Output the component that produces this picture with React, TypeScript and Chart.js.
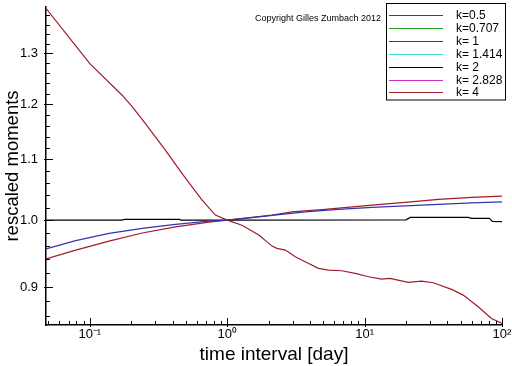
import React, { useEffect, useRef } from 'react';
import { Chart, registerables } from 'chart.js';

Chart.register(...registerables);

const FONT = '"Liberation Sans", Arial, Helvetica, sans-serif';

// Axis ranges
const xMin = 0.048;
const xMax = 100;
const yMin = 0.848;
const yMax = 1.398;

// Tick values / labels
const xMajorTicks = [0.1, 1, 10, 100];
const xTickLabels = ['10\u207B\u00B9', '10\u2070', '10\u00B9', '10\u00B2'];
const xMinorTicks = [
  0.05, 0.06, 0.07, 0.08, 0.09,
  0.2, 0.3, 0.4, 0.5, 0.6, 0.7, 0.8, 0.9,
  2, 3, 4, 5, 6, 7, 8, 9,
  20, 30, 40, 50, 60, 70, 80, 90,
];
const yMajorTicks = [0.9, 1.0, 1.1, 1.2, 1.3];
const yTickLabels = ['0.9', '1.0', '1.1', '1.2', '1.3'];
const yMinorTicks = [
  0.86, 0.88, 0.92, 0.94, 0.96, 0.98, 1.02, 1.04, 1.06, 1.08,
  1.12, 1.14, 1.16, 1.18, 1.22, 1.24, 1.26, 1.28, 1.32, 1.34, 1.36, 1.38,
];

// Series
const seriesLabels = ['k=0.5', 'k=0.707', 'k= 1', 'k= 1.414', 'k= 2', 'k= 2.828', 'k= 4'];
const seriesColors = ['#a01c2c', '#22a822', '#3434b0', '#3cdcdc', '#000000', '#c832c8', '#a01c2c'];

const k05T = [0.048, 0.1, 0.172, 0.204, 0.254, 0.356, 0.47, 0.65, 0.82, 1.0, 1.28, 1.7, 2.12, 2.3, 2.65, 3.13, 3.69, 4.62, 5.47, 6.83, 8.53, 10.7, 13.3, 15.3, 20.8, 26, 31.6, 43, 52.2, 67.1, 83.8, 100];
const k05V = [1.395, 1.279, 1.217, 1.195, 1.164, 1.116, 1.076, 1.033, 1.008, 1.0, 0.992, 0.977, 0.96, 0.9565, 0.954, 0.944, 0.9366, 0.927, 0.9244, 0.9235, 0.9197, 0.9148, 0.9115, 0.9125, 0.9067, 0.9086, 0.9062, 0.8968, 0.8888, 0.8726, 0.8568, 0.85];

const k0707T: number[] = [];
const k0707V: number[] = [];

const k1T = [0.048, 0.079, 0.138, 0.241, 0.42, 0.735, 1.0, 1.7, 2.12, 3.69, 6.45, 11.3, 19.7, 34.4, 60, 100];
const k1V = [0.9559, 0.9683, 0.9793, 0.987, 0.9933, 0.9984, 1.0, 1.0052, 1.0074, 1.0131, 1.017, 1.0202, 1.0227, 1.025, 1.0276, 1.0292];

const k1414T: number[] = [];
const k1414V: number[] = [];

const k2T = [0.048, 0.17, 0.18, 0.45, 0.46, 1, 20, 21.5, 56.8, 60, 81, 85, 100];
const k2V = [1.0, 1.0, 1.0011, 1.0011, 1.0, 1.0, 1.0005, 1.0042, 1.0042, 1.0027, 1.0027, 0.998, 0.9975];

const k2828T: number[] = [];
const k2828V: number[] = [];

const k4T = [0.048, 0.079, 0.138, 0.241, 0.42, 0.735, 1.0, 1.7, 2.12, 2.96, 5.16, 11.3, 19.7, 34.4, 60, 100];
const k4V = [0.941, 0.954, 0.9675, 0.98, 0.9894, 0.997, 1.0, 1.0055, 1.0079, 1.0131, 1.017, 1.0239, 1.0282, 1.0331, 1.0363, 1.0384];

const xTitle = 'time interval [day]';
const yTitle = 'rescaled moments';
const copyright = 'Copyright Gilles Zumbach 2012';

const near = (a: number, b: number) => Math.abs(a - b) / Math.abs(b) < 1e-6;

const tickMarks = {
  id: 'tickMarks',
  afterDraw(chart: any) {
    const { ctx, chartArea: a, scales } = chart;
    ctx.save();
    ctx.strokeStyle = '#000';
    ctx.lineWidth = 1;
    const xs = scales.x;
    const ys = scales.y;
    xs.ticks.forEach((t: any) => {
      const major = xMajorTicks.some((m) => near(t.value, m));
      const px = Math.round(xs.getPixelForValue(t.value)) + 0.5;
      ctx.beginPath();
      ctx.moveTo(px, a.bottom + (major ? 2 : 0));
      ctx.lineTo(px, a.bottom - (major ? 7 : 4));
      ctx.stroke();
    });
    ys.ticks.forEach((t: any) => {
      const major = yMajorTicks.some((m) => near(t.value, m));
      const py = Math.round(ys.getPixelForValue(t.value)) + 0.5;
      ctx.beginPath();
      ctx.moveTo(a.left - (major ? 2 : 0), py);
      ctx.lineTo(a.left + (major ? 7 : 4), py);
      ctx.stroke();
    });
    ctx.restore();
  },
};

const legendBox = {
  id: 'legendBox',
  afterDraw(chart: any) {
    const { ctx } = chart;
    ctx.save();
    ctx.fillStyle = '#fff';
    ctx.fillRect(386.5, 3.5, 119, 96.5);
    ctx.strokeStyle = '#000';
    ctx.lineWidth = 1;
    ctx.strokeRect(386.5, 3.5, 119, 96.5);
    ctx.font = `12px ${FONT}`;
    ctx.textBaseline = 'middle';
    ctx.textAlign = 'left';
    chart.data.datasets.forEach((ds: any, i: number) => {
      const y = Math.round(15 + i * 12.9) + 0.5;
      ctx.strokeStyle = ds.borderColor;
      ctx.lineWidth = 1;
      ctx.beginPath();
      ctx.moveTo(389, y);
      ctx.lineTo(443, y);
      ctx.stroke();
      ctx.fillStyle = '#000';
      ctx.fillText(ds.label, 456, y + 0.5);
    });
    ctx.font = `9px ${FONT}`;
    ctx.fillStyle = '#000';
    ctx.fillText(copyright, 255, 19);
    ctx.restore();
  },
};

export default function App() {
  const ref = useRef<HTMLCanvasElement>(null);

  useEffect(() => {
    document.body.style.margin = '0';
    const canvas = ref.current!;
    const mk = (T: number[], V: number[]) => T.map((t, i) => ({ x: t, y: V[i] }));
    const seriesData = [
      mk(k05T, k05V),
      mk(k0707T, k0707V),
      mk(k1T, k1V),
      mk(k1414T, k1414V),
      mk(k2T, k2V),
      mk(k2828T, k2828V),
      mk(k4T, k4V),
    ];
    const chart = new Chart(canvas, {
      type: 'line',
      data: {
        datasets: seriesLabels.map((label, i) => ({
          label,
          data: seriesData[i],
          borderColor: seriesColors[i],
          backgroundColor: seriesColors[i],
          borderWidth: 1.2,
          pointRadius: 0,
          tension: 0,
          fill: false,
        })),
      },
      options: {
        responsive: false,
        animation: false,
        devicePixelRatio: 1,
        layout: { padding: { top: 7, right: 10, left: 0, bottom: 0 } },
        plugins: { legend: { display: false }, tooltip: { enabled: false } },
        scales: {
          x: {
            type: 'logarithmic',
            min: xMin,
            max: xMax,
            grid: { display: false, drawTicks: false },
            border: { display: true, color: '#000', width: 1.5 },
            ticks: {
              autoSkip: false,
              maxRotation: 0,
              padding: 2,
              color: '#000',
              font: { family: FONT, size: 13 },
              callback: (v: any) => {
                const i = xMajorTicks.findIndex((m) => near(Number(v), m));
                return i >= 0 ? xTickLabels[i] : '';
              },
            },
            afterBuildTicks: (s: any) => {
              s.ticks = [...xMajorTicks, ...xMinorTicks]
                .filter((v) => v >= xMin && v <= xMax)
                .sort((a, b) => a - b)
                .map((value) => ({ value }));
            },
            afterFit: (s: any) => {
              s.height = 41;
              s.paddingLeft = 0;
              s.paddingRight = 0;
            },
            title: {
              display: true,
              text: xTitle,
              color: '#000',
              font: { family: FONT, size: 19 },
              padding: { top: 0, bottom: 0 },
            },
          },
          y: {
            type: 'logarithmic',
            min: yMin,
            max: yMax,
            grid: { display: false, drawTicks: false },
            border: { display: true, color: '#000', width: 1.5 },
            ticks: {
              autoSkip: false,
              padding: 8,
              color: '#000',
              font: { family: FONT, size: 13 },
              callback: (v: any) => {
                const i = yMajorTicks.findIndex((m) => near(Number(v), m));
                return i >= 0 ? yTickLabels[i] : '';
              },
            },
            afterBuildTicks: (s: any) => {
              s.ticks = [...yMajorTicks, ...yMinorTicks]
                .sort((a, b) => a - b)
                .map((value) => ({ value }));
            },
            afterFit: (s: any) => {
              s.width = 46;
              s.paddingTop = 0;
              s.paddingBottom = 0;
            },
            title: {
              display: true,
              text: yTitle,
              color: '#000',
              font: { family: FONT, size: 18.5 },
              padding: { top: 2, bottom: 0 },
            },
          },
        },
      },
      plugins: [tickMarks, legendBox],
    } as any);
    return () => chart.destroy();
  }, []);

  return (
    <div style={{ width: 512, height: 366 }}>
      <canvas ref={ref} width={512} height={366} style={{ display: 'block' }} />
    </div>
  );
}
